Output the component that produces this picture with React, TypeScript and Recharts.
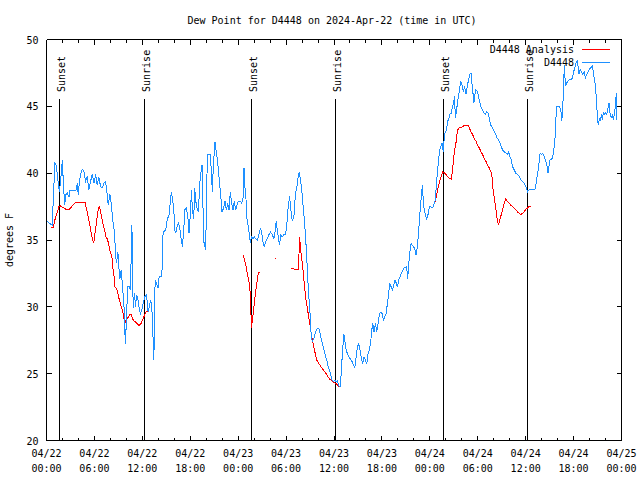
import { LineChart, Line, XAxis, YAxis, ReferenceLine, Legend } from 'recharts';

const FONT = '"DejaVu Sans Mono", "Liberation Mono", monospace';

// hours after 2024-04-22 00:00 UTC
const hourTicks = [0, 2, 4, 6, 8, 10, 12, 14, 16, 18, 20, 22, 24, 26, 28, 30, 32, 34, 36, 38, 40, 42, 44, 46, 48, 50, 52, 54, 56, 58, 60, 62, 64, 66, 68, 70, 72];
const majorHours = [0, 6, 12, 18, 24, 30, 36, 42, 48, 54, 60, 66, 72];
const dateLabels = ['04/22', '04/22', '04/22', '04/22', '04/23', '04/23', '04/23', '04/23', '04/24', '04/24', '04/24', '04/24', '04/25'];
const timeLabels = ['00:00', '06:00', '12:00', '18:00', '00:00', '06:00', '12:00', '18:00', '00:00', '06:00', '12:00', '18:00', '00:00'];
const tempTicks = [20, 25, 30, 35, 40, 45, 50];

const sunHours = [1.6, 12.25, 25.64, 36.16, 49.69, 60.2];
const sunNames = ['Sunset', 'Sunrise', 'Sunset', 'Sunrise', 'Sunset', 'Sunrise'];

// observed dew point, [hour, degF]
const observed: [number, number][] = [
  [0.02, 36.4], [0.73, 36.1], [0.85, 38.1], [1.06, 40.75], [1.23, 40.6], [1.35, 39.9], [1.6, 38.6], [1.77, 39.4], [1.98, 41.0], [2.1, 39.4],
  [2.27, 37.6], [2.44, 38.4], [2.6, 38.5], [2.81, 38.2], [2.94, 38.7], [3.44, 38.7], [3.73, 38.75], [3.85, 39.25], [3.98, 38.4], [4.1, 39.25],
  [4.27, 39.9], [4.48, 40.3], [4.69, 40.1], [4.9, 39.4], [5.1, 39.75], [5.31, 38.75], [5.52, 39.4], [5.73, 39.9], [5.94, 39.25], [6.15, 39.9],
  [6.35, 39.1], [6.56, 39.7], [6.77, 39.0], [7.02, 38.9], [7.19, 39.25], [7.4, 39.4], [7.6, 38.4], [7.73, 37.6], [7.94, 38.4], [8.1, 37.75],
  [8.23, 36.9], [8.35, 36.25], [8.52, 35.5], [8.65, 33.9], [8.77, 33.25], [8.94, 34.1], [9.06, 33.0], [9.19, 32.1], [9.35, 32.75], [9.52, 31.5],
  [9.69, 30.25], [9.81, 28.1], [9.9, 27.25], [10.02, 29.5], [10.19, 31.5], [10.35, 31.5], [10.52, 31.25], [10.6, 33.75], [10.69, 36.1], [10.77, 33.9],
  [10.85, 29.9], [11.02, 31.0], [11.15, 30.0], [11.27, 30.9], [11.44, 30.6], [11.6, 29.9], [11.77, 29.5], [11.94, 29.75], [12.1, 30.25], [12.31, 30.75],
  [12.52, 30.9], [12.73, 29.6], [12.94, 30.25], [13.06, 30.5], [13.19, 29.9], [13.31, 28.25], [13.44, 26.0], [13.52, 28.75], [13.6, 32.0], [13.77, 31.75],
  [13.98, 31.4], [14.1, 32.25], [14.44, 32.25], [14.52, 33.9], [14.6, 35.6], [14.94, 35.75], [15.1, 36.5], [15.35, 36.9], [15.52, 38.0], [15.65, 38.6],
  [15.77, 38.1], [15.94, 37.25], [16.06, 35.75], [16.19, 35.5], [16.35, 36.0], [16.52, 36.25], [16.69, 35.9], [16.85, 35.1], [17.02, 34.5], [17.19, 35.75],
  [17.31, 37.25], [17.52, 37.4], [17.73, 36.5], [17.85, 35.5], [18.02, 37.0], [18.15, 38.75], [18.27, 37.25], [18.44, 36.6], [18.56, 38.9], [18.69, 37.9],
  [18.85, 37.4], [19.02, 37.1], [19.19, 39.25], [19.35, 40.1], [19.48, 40.6], [19.56, 39.1], [19.65, 35.0], [19.81, 34.6], [19.94, 34.25], [20.02, 37.75],
  [20.15, 41.4], [20.52, 41.4], [20.65, 40.0], [20.77, 38.6], [20.9, 40.75], [21.02, 41.6], [21.1, 42.3], [21.23, 41.75], [21.4, 41.0], [21.56, 40.0],
  [21.69, 39.1], [21.85, 38.1], [21.98, 37.1], [22.19, 37.4], [22.35, 37.9], [22.52, 37.25], [22.69, 37.75], [22.85, 37.25], [23.02, 38.6], [23.15, 37.9],
  [23.35, 37.25], [23.52, 37.9], [23.69, 37.25], [23.85, 37.6], [24.02, 37.9], [24.31, 37.9], [24.44, 37.75], [24.6, 38.0], [24.73, 40.4], [24.85, 38.9],
  [24.94, 38.75], [25.06, 36.75], [25.27, 36.0], [25.44, 35.25], [25.52, 34.75], [25.65, 35.25], [25.85, 35.1], [26.02, 35.25], [26.19, 35.1], [26.4, 35.0],
  [26.6, 35.4], [26.81, 35.9], [26.94, 35.6], [27.1, 34.9], [27.27, 34.5], [27.44, 34.9], [27.65, 35.1], [27.85, 35.4], [28.06, 35.6], [28.27, 35.4],
  [28.48, 35.1], [28.6, 35.5], [28.77, 36.4], [28.9, 35.75], [29.02, 35.25], [29.19, 34.6], [29.31, 35.4], [29.52, 35.25], [29.73, 35.4], [29.94, 35.4],
  [30.1, 36.25], [30.27, 37.5], [30.44, 38.25], [30.6, 37.25], [30.77, 36.4], [30.98, 36.75], [31.1, 37.9], [31.23, 38.6], [31.4, 39.1], [31.52, 39.75],
  [31.65, 40.1], [31.77, 39.6], [31.94, 38.9], [32.1, 37.75], [32.27, 36.6], [32.44, 35.25], [32.56, 34.0], [32.69, 32.5], [32.81, 31.0], [32.98, 29.75],
  [33.1, 28.25], [33.27, 27.4], [33.48, 27.6], [33.69, 28.1], [33.9, 28.4], [34.1, 28.4], [34.27, 28.0], [34.44, 27.5], [34.6, 27.1], [34.77, 26.75],
  [34.94, 26.25], [35.1, 26.0], [35.27, 25.5], [35.44, 25.25], [35.6, 24.9], [35.77, 24.5], [35.94, 24.4], [36.1, 24.5], [36.27, 24.4], [36.44, 24.45],
  [36.6, 24.1], [36.75, 24.0], [36.85, 24.5], [36.94, 25.5], [37.1, 26.9], [37.23, 28.0], [37.35, 27.5], [37.52, 26.75], [37.69, 26.5], [37.85, 26.25],
  [38.06, 26.1], [38.27, 25.9], [38.48, 25.6], [38.6, 25.4], [38.77, 26.25], [38.94, 27.0], [39.1, 27.25], [39.27, 26.75], [39.44, 26.1], [39.6, 25.75],
  [39.77, 26.25], [39.94, 26.0], [40.1, 25.75], [40.27, 26.5], [40.44, 26.75], [40.6, 27.4], [40.73, 28.25], [40.85, 28.75], [41.02, 28.1], [41.19, 28.75],
  [41.35, 28.1], [41.52, 28.75], [41.69, 29.5], [41.85, 29.6], [42.02, 29.5], [42.19, 29.0], [42.35, 29.25], [42.52, 29.5], [42.69, 30.25], [42.85, 31.0],
  [42.98, 31.75], [43.15, 31.5], [43.31, 31.25], [43.48, 31.6], [43.65, 32.0], [43.81, 31.75], [43.94, 31.5], [44.1, 32.0], [44.27, 32.25], [44.44, 32.5],
  [44.6, 32.7], [44.77, 32.9], [44.94, 32.95], [45.1, 33.0], [45.23, 32.1], [45.35, 33.1], [45.48, 34.0], [45.65, 34.75], [45.81, 34.6], [45.98, 34.5],
  [46.15, 34.25], [46.27, 33.9], [46.44, 34.5], [46.56, 35.4], [46.69, 36.4], [46.81, 37.4], [46.94, 38.25], [47.06, 39.1], [47.15, 38.25], [47.27, 37.4],
  [47.44, 36.9], [47.6, 36.5], [47.77, 36.9], [47.94, 37.5], [48.1, 37.5], [48.27, 37.4], [48.44, 37.5], [48.56, 37.75], [48.69, 38.0], [48.81, 39.1],
  [48.94, 40.0], [49.1, 41.0], [49.23, 41.75], [49.4, 42.0], [49.52, 42.25], [49.69, 41.6], [49.81, 42.75], [49.94, 43.1], [50.1, 43.25], [50.23, 43.9],
  [50.35, 44.0], [50.52, 44.4], [50.69, 44.5], [50.85, 45.0], [50.98, 45.25], [51.1, 45.75], [51.19, 44.1], [51.35, 44.75], [51.52, 45.5], [51.69, 46.1],
  [51.85, 46.9], [52.02, 46.6], [52.19, 46.1], [52.35, 46.5], [52.52, 45.9], [52.69, 46.5], [52.85, 47.0], [53.02, 47.4], [53.15, 47.5], [53.27, 46.75],
  [53.4, 46.0], [53.52, 45.25], [53.65, 45.9], [53.77, 46.25], [53.94, 46.1], [54.1, 45.75], [54.27, 45.25], [54.44, 44.9], [54.6, 44.75], [54.77, 44.5],
  [54.94, 44.4], [55.1, 44.6], [55.27, 44.5], [55.44, 44.1], [55.6, 43.6], [55.77, 43.5], [55.94, 43.25], [56.1, 43.1], [56.27, 42.9], [56.44, 42.6],
  [56.6, 42.5], [56.77, 42.25], [56.94, 42.0], [57.1, 41.75], [57.31, 41.6], [57.52, 41.5], [57.69, 41.4], [57.85, 41.6], [58.02, 41.25], [58.19, 41.0],
  [58.35, 40.5], [58.56, 40.25], [58.77, 40.0], [58.98, 39.9], [59.19, 39.75], [59.4, 39.5], [59.6, 39.4], [59.81, 39.25], [60.02, 39.0], [60.23, 38.6],
  [60.44, 38.75], [60.85, 38.75], [61.15, 38.75], [61.31, 39.25], [61.48, 39.9], [61.65, 40.6], [61.81, 41.5], [61.98, 41.4], [62.15, 41.5], [62.31, 41.25],
  [62.48, 41.0], [62.65, 40.6], [62.81, 40.0], [62.94, 40.6], [63.06, 41.0], [63.23, 41.0], [63.4, 41.25], [63.56, 41.9], [63.73, 43.0], [63.85, 45.0],
  [64.23, 45.0], [64.4, 44.75], [64.52, 43.9], [64.65, 44.9], [64.73, 46.5], [64.85, 48.1], [64.98, 46.5], [65.15, 46.75], [65.31, 46.9], [65.48, 47.0],
  [65.65, 47.0], [65.85, 47.1], [65.98, 47.5], [66.15, 47.9], [66.31, 48.25], [66.44, 48.4], [66.56, 48.0], [66.69, 47.4], [66.81, 47.75], [66.98, 47.6],
  [67.15, 47.4], [67.31, 47.6], [67.48, 47.1], [67.65, 47.4], [67.81, 47.6], [67.98, 47.75], [68.15, 47.9], [68.35, 48.0], [68.48, 47.5], [68.65, 46.9],
  [68.77, 46.25], [68.9, 45.25], [68.98, 44.0], [69.1, 43.6], [69.23, 44.1], [69.35, 43.9], [69.48, 44.4], [69.6, 44.0], [69.73, 44.5], [69.85, 44.4],
  [70.02, 44.5], [70.15, 44.4], [70.31, 44.9], [70.44, 45.25], [70.56, 44.5], [70.73, 44.1], [70.85, 44.4], [70.98, 44.0], [71.1, 44.4], [71.23, 45.0],
  [71.35, 46.0], [71.44, 44.0],
];

// analysis dew point, broken into the stretches that have values
const analysisNight1: [number, number][] = [
  [0.6, 35.9], [0.85, 35.9], [1.0, 36.4], [1.35, 37.1], [1.56, 37.5], [1.77, 37.55], [1.98, 37.45], [2.19, 37.4], [2.4, 37.3], [2.6, 37.25],
  [2.81, 37.25], [3.02, 37.4], [3.23, 37.55], [3.44, 37.7], [3.65, 37.8], [4.85, 37.8], [4.94, 37.5], [5.1, 37.1], [5.27, 36.6], [5.44, 36.1],
  [5.6, 35.5], [5.77, 35.0], [5.9, 34.75], [6.02, 35.25], [6.19, 36.0], [6.35, 36.75], [6.52, 37.4], [6.65, 37.5], [6.77, 37.1], [6.94, 36.6],
  [7.1, 36.1], [7.27, 35.75], [7.44, 35.25], [7.6, 35.1], [7.77, 34.75], [7.9, 34.25], [8.02, 34.1], [8.19, 33.75], [8.27, 33.1], [8.44, 32.4],
  [8.56, 31.5], [8.73, 31.4], [8.85, 31.25], [9.02, 30.75], [9.19, 30.4], [9.35, 30.0], [9.52, 29.75], [9.69, 29.1], [9.81, 28.75], [9.94, 29.0],
  [10.1, 29.1], [10.27, 29.25], [10.44, 29.4], [10.6, 29.45], [10.77, 29.1], [10.94, 28.95], [11.1, 28.9], [11.35, 28.75], [11.6, 28.6], [11.85, 28.75],
  [12.02, 29.0], [12.19, 29.25], [12.44, 29.6], [12.69, 29.7],
];
const analysisEvening2: [number, number][] = [
  [24.6, 33.9], [24.94, 33.2], [25.15, 32.5], [25.35, 31.9], [25.52, 31.0], [25.6, 29.6], [25.65, 28.4], [25.77, 29.0], [25.9, 29.6], [26.06, 30.5],
  [26.23, 31.3], [26.4, 32.0], [26.52, 32.5], [26.65, 32.6],
];
const analysisBlip: [number, number][] = [[28.6, 33.6], [28.75, 33.6]];
const analysisNight2: [number, number][] = [
  [30.6, 32.9], [31.19, 32.8], [31.55, 32.8], [31.69, 35.2], [31.8, 34.4], [32.1, 32.9], [32.3, 31.6], [32.5, 30.5], [32.7, 29.75], [32.9, 29.0],
  [33.15, 28.0], [33.44, 27.1], [33.65, 26.5], [33.85, 26.0], [34.1, 25.75], [34.4, 25.5], [35.0, 25.0], [35.44, 24.6], [35.85, 24.4], [36.27, 24.25],
  [36.7, 24.0],
];
const analysisNight3: [number, number][] = [
  [48.45, 37.6], [48.69, 37.9], [48.81, 38.25], [48.94, 38.6], [49.1, 39.1], [49.27, 39.5], [49.44, 39.75], [49.6, 40.1], [49.81, 40.05], [50.02, 39.9],
  [50.23, 39.75], [50.44, 39.6], [50.69, 39.55], [50.85, 40.25], [50.98, 41.1], [51.1, 41.75], [51.27, 42.25], [51.4, 42.9], [51.52, 43.25], [51.69, 43.4],
  [51.9, 43.4], [52.1, 43.5], [52.31, 43.55], [52.52, 43.6], [52.77, 43.6], [52.94, 43.4], [53.15, 43.1], [53.35, 42.9], [53.56, 42.6], [53.77, 42.4],
  [53.98, 42.1], [54.19, 41.9], [54.4, 41.6], [54.6, 41.4], [54.81, 41.1], [55.02, 40.9], [55.23, 40.6], [55.44, 40.4], [55.65, 40.1], [55.77, 39.9],
  [55.85, 39.1], [55.98, 38.5], [56.1, 38.0], [56.23, 37.5], [56.35, 36.9], [56.48, 36.4], [56.6, 36.1], [56.77, 36.5], [56.94, 36.9], [57.1, 37.25],
  [57.31, 37.75], [57.52, 38.1], [57.69, 37.9], [57.94, 37.75], [58.15, 37.6], [58.35, 37.5], [58.56, 37.4], [58.77, 37.25], [58.98, 37.1], [59.19, 37.0],
  [59.4, 36.9], [59.6, 37.0], [59.81, 37.1], [60.02, 37.3], [60.23, 37.4], [60.44, 37.5], [60.65, 37.55],
];

const toRows = (pts: [number, number][]) => pts.map(([h, v]) => ({ h, v }));
const observedRows = toRows(observed);
const analysisRows = [analysisNight1, analysisEvening2, analysisBlip, analysisNight2, analysisNight3]
  .flatMap((seg) => [...toRows(seg), { h: seg[seg.length - 1][0] + 0.05, v: null }]);

const RED = '#ff0000';
const BLUE = '#1e90ff';

const BottomTick = (props: any) => {
  const { x, y, payload } = props;
  const i = majorHours.indexOf(payload.value);
  const major = i >= 0;
  return (
    <g>
      <line x1={x} x2={x} y1={y} y2={y - (major ? 5 : 3)} stroke="#000" />
      {major && (
        <text x={x} y={y + 16} textAnchor="middle" fontSize={10} fontFamily={FONT} fill="#000">
          <tspan x={x}>{dateLabels[i]}</tspan>
          <tspan x={x} dy={15}>{timeLabels[i]}</tspan>
        </text>
      )}
    </g>
  );
};

const TopTick = (props: any) => {
  const { x, y, payload } = props;
  const major = majorHours.includes(payload.value);
  return <line x1={x} x2={x} y1={y} y2={y + (major ? 5 : 3)} stroke="#000" />;
};

const LeftTick = (props: any) => {
  const { x, y, payload } = props;
  return (
    <g>
      <line x1={x} x2={x + 5} y1={y} y2={y} stroke="#000" />
      <text x={x - 8} y={y + 4} textAnchor="end" fontSize={10} fontFamily={FONT} fill="#000">{payload.value}</text>
    </g>
  );
};

const RightTick = (props: any) => {
  const { x, y } = props;
  return <line x1={x} x2={x - 5} y1={y} y2={y} stroke="#000" />;
};

const sunShape = (name: string) => (p: any) => {
  const top = Math.min(p.y1, p.y2);
  const bottom = Math.max(p.y1, p.y2);
  return (
    <g>
      <line x1={p.x1} x2={p.x2} y1={top} y2={bottom} stroke="#000" />
      <text transform={`translate(${p.x1 + 5.5},${top - 7}) rotate(-90)`} fontSize={10} fontFamily={FONT} fill="#000">{name}</text>
    </g>
  );
};

const legendItems = [
  { name: 'D4448 Analysis', color: RED },
  { name: 'D4448', color: BLUE },
];

const renderLegend = () => (
  <div style={{ position: 'relative', width: 640, height: 70, fontFamily: FONT, fontSize: 10, color: '#000' }}>
    {legendItems.map((it, i) => (
      <div key={it.name}>
        <div style={{ position: 'absolute', right: 66, top: 44 + i * 13, lineHeight: '12px', whiteSpace: 'nowrap' }}>{it.name}</div>
        <div style={{ position: 'absolute', left: 582, width: 28, top: 49 + i * 13, height: 1, background: it.color }} />
      </div>
    ))}
  </div>
);

export default function App() {
  return (
    <div style={{ position: 'absolute', left: 0, top: 0, width: 640, height: 480, background: '#fff', shapeRendering: 'crispEdges' }}>
      <LineChart width={640} height={480} margin={{ top: 38.5, right: 17.5, bottom: 0, left: 0 }}>
        <XAxis
          dataKey="h"
          type="number"
          domain={[0, 72]}
          ticks={hourTicks}
          interval={0}
          allowDataOverflow
          height={39.5}
          tickSize={0}
          tickMargin={0}
          tickLine={false}
          stroke="#000"
          tick={<BottomTick />}
        />
        <XAxis
          xAxisId="top"
          dataKey="h"
          orientation="top"
          type="number"
          domain={[0, 72]}
          ticks={hourTicks}
          interval={0}
          allowDataOverflow
          height={1}
          tickSize={0}
          tickMargin={0}
          tickLine={false}
          stroke="#000"
          tick={<TopTick />}
        />
        <YAxis
          type="number"
          domain={[20, 50]}
          ticks={tempTicks}
          interval={0}
          allowDataOverflow
          width={46.5}
          tickSize={0}
          tickMargin={0}
          tickLine={false}
          stroke="#000"
          tick={<LeftTick />}
        />
        <YAxis
          yAxisId="right"
          orientation="right"
          type="number"
          domain={[20, 50]}
          ticks={tempTicks}
          interval={0}
          allowDataOverflow
          width={1}
          tickSize={0}
          tickMargin={0}
          tickLine={false}
          stroke="#000"
          tick={<RightTick />}
        />
        {sunHours.map((h, i) => (
          <ReferenceLine
            key={`sun-${i}`}
            segment={[{ x: h, y: 20 }, { x: h, y: 45.55 }]}
            stroke="#000"
            shape={sunShape(sunNames[i])}
          />
        ))}
        {/* invisible copy so the mirrored top/right axes have a series to scale against */}
        <Line xAxisId="top" yAxisId="right" data={observedRows} dataKey="v" stroke="none" dot={false} activeDot={false} legendType="none" isAnimationActive={false} />
        <Line data={analysisRows} dataKey="v" stroke={RED} strokeWidth={1} dot={false} isAnimationActive={false} connectNulls={false} />
        <Line data={observedRows} dataKey="v" stroke={BLUE} strokeWidth={1} dot={false} isAnimationActive={false} />
        <Legend
          layout="vertical"
          align="center"
          verticalAlign="middle"
          content={renderLegend}
          wrapperStyle={{ top: 0, left: 0, width: 640 }}
        />
      </LineChart>
      <svg width={640} height={480} style={{ position: 'absolute', left: 0, top: 0, pointerEvents: 'none' }}>
        <text x={332} y={23.5} textAnchor="middle" fontSize={10} fontFamily={FONT} fill="#000">
          Dew Point for D4448 on 2024-Apr-22 (time in UTC)
        </text>
        <text transform="translate(13,240) rotate(-90)" textAnchor="middle" fontSize={10} fontFamily={FONT} fill="#000">
          degrees F
        </text>
      </svg>
    </div>
  );
}
